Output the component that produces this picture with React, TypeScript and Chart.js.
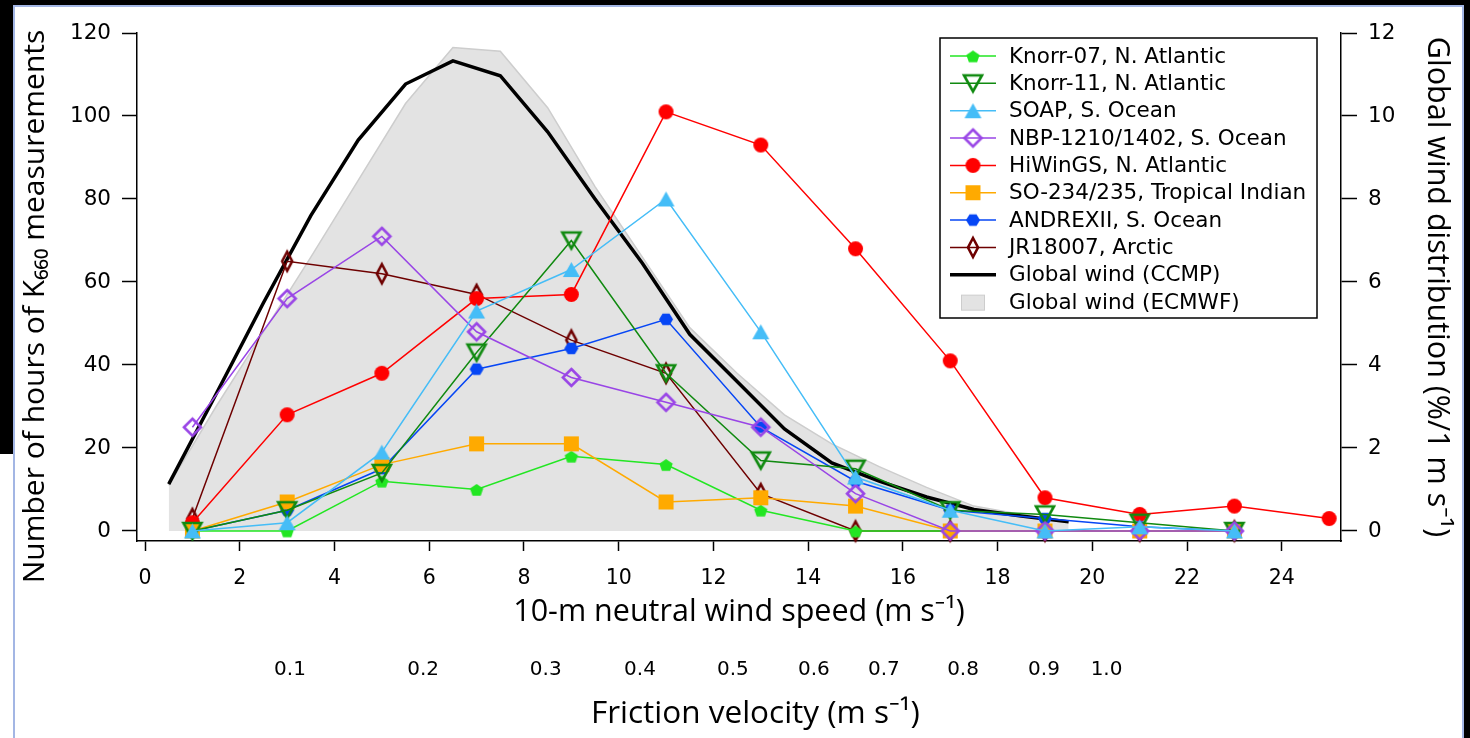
import React, { useEffect, useRef } from 'react';
import { Chart, registerables } from 'chart.js';

Chart.register(...registerables);

// ---- Data ----
const windBins = [1, 3, 5, 7, 9, 11, 13, 15, 17, 19, 21, 23, 25];
const knorr07 = [0, 0, 12, 10, 18, 16, 5, 0, 0, 0, 0, 0, null];
const knorr11 = [0, 5, 14, 43, 70, 38, 17, 15, 5, 4, 2, 0, null];
const soap = [0, 2, 19, 53, 63, 80, 48, 13, 5, 0, 1, 0, null];
const nbp = [25, 56, 71, 48, 37, 31, 25, 9, 0, 0, 0, 0, null];
const hiwings = [2, 28, 38, 56, 57, 101, 93, 68, 41, 8, 4, 6, 3];
const so234 = [0, 7, 16, 21, 21, 7, 8, 6, 0, 0, 0, 0, null];
const andrex = [0, 5, 15, 39, 44, 51, 25, 12, 5, 3, 1, 0, null];
const jr18007 = [3, 65, 62, 57, 46, 38, 9, 0, 0, 0, 0, 0, null];

const globalBins = [0.5, 1.5, 2.5, 3.5, 4.5, 5.5, 6.5, 7.5, 8.5, 9.5, 10.5, 11.5, 12.5, 13.5, 14.5, 15.5, 16.5, 17.5, 18.5, 19.5];
const ccmp = [1.13, 3.3, 5.5, 7.6, 9.42, 10.77, 11.33, 10.97, 9.62, 8.0, 6.45, 4.74, 3.6, 2.46, 1.64, 1.2, 0.82, 0.52, 0.36, 0.22];
const ecmwf = [1.1, 3.0, 4.8, 6.6, 8.45, 10.3, 11.65, 11.56, 10.2, 8.3, 6.6, 4.9, 3.8, 2.8, 2.1, 1.55, 1.05, 0.6, 0.4, 0.25];

const windTicks = [0, 2, 4, 6, 8, 10, 12, 14, 16, 18, 20, 22, 24];
const leftTicks = [0, 20, 40, 60, 80, 100, 120];
const rightTicks = [0, 2, 4, 6, 8, 10, 12];
const frictionAtWind = [3.06, 5.87, 8.46, 10.45, 12.41, 14.12, 15.6, 17.27, 18.98, 20.3];
const frictionLabels = ['0.1', '0.2', '0.3', '0.4', '0.5', '0.6', '0.7', '0.8', '0.9', '1.0'];

const TICK_FONT = '"DejaVu Sans", Verdana, sans-serif';
const TITLE_FONT = '"Open Sans", "Noto Sans", sans-serif';

type Shape = 'pentagon' | 'triDown' | 'triUp' | 'diamond' | 'circle' | 'square' | 'hexagon';

function makeMarker(shape: Shape, w: number, h: number, fill: string | null, stroke: string | null, lw: number) {
  const pad = Math.ceil(lw) + 1;
  const c = document.createElement('canvas');
  c.width = Math.ceil(w + pad * 2);
  c.height = Math.ceil(h + pad * 2);
  const ctx = c.getContext('2d')!;
  const cx = c.width / 2;
  const cy = c.height / 2;
  ctx.beginPath();
  if (shape === 'circle') {
    ctx.arc(cx, cy, w / 2, 0, Math.PI * 2);
  } else if (shape === 'square') {
    ctx.rect(cx - w / 2, cy - h / 2, w, h);
  } else if (shape === 'triUp') {
    ctx.moveTo(cx, cy - h / 2);
    ctx.lineTo(cx + w / 2, cy + h / 2);
    ctx.lineTo(cx - w / 2, cy + h / 2);
    ctx.closePath();
  } else if (shape === 'triDown') {
    ctx.moveTo(cx - w / 2, cy - h / 2);
    ctx.lineTo(cx + w / 2, cy - h / 2);
    ctx.lineTo(cx, cy + h / 2);
    ctx.closePath();
  } else if (shape === 'diamond') {
    ctx.moveTo(cx, cy - h / 2);
    ctx.lineTo(cx + w / 2, cy);
    ctx.lineTo(cx, cy + h / 2);
    ctx.lineTo(cx - w / 2, cy);
    ctx.closePath();
  } else if (shape === 'pentagon') {
    for (let i = 0; i < 5; i++) {
      const a = -Math.PI / 2 + (i * 2 * Math.PI) / 5;
      const px = cx + (w / 2) * Math.cos(a);
      const py = cy + 1 + (h / 2) * Math.sin(a);
      if (i === 0) ctx.moveTo(px, py); else ctx.lineTo(px, py);
    }
    ctx.closePath();
  } else if (shape === 'hexagon') {
    for (let i = 0; i < 6; i++) {
      const a = (i * Math.PI) / 3;
      const px = cx + (w / 2) * Math.cos(a);
      const py = cy + (h / 2) * Math.sin(a);
      if (i === 0) ctx.moveTo(px, py); else ctx.lineTo(px, py);
    }
    ctx.closePath();
  }
  if (fill) {
    ctx.fillStyle = fill;
    ctx.fill();
  }
  if (stroke) {
    ctx.strokeStyle = stroke;
    ctx.lineWidth = lw;
    ctx.lineJoin = 'miter';
    ctx.stroke();
  }
  return c;
}

export default function App() {
  const ref = useRef<HTMLCanvasElement>(null);

  useEffect(() => {
    const canvas = ref.current;
    if (!canvas) return;

    const series = [
      { label: 'Knorr-07, N. Atlantic', values: knorr07, color: '#22e622', marker: makeMarker('pentagon', 14, 13, '#22e622', null, 0), order: 16 },
      { label: 'Knorr-11, N. Atlantic', values: knorr11, color: '#108a10', marker: makeMarker('triDown', 18, 16, null, '#108a10', 2.6), order: 13 },
      { label: 'SOAP, S. Ocean', values: soap, color: '#45bdf7', marker: makeMarker('triUp', 17, 15, '#45bdf7', null, 0), order: 11 },
      { label: 'NBP-1210/1402, S. Ocean', values: nbp, color: '#9945e6', marker: makeMarker('diamond', 17, 17, null, '#9945e6', 2.6), order: 12 },
      { label: 'HiWinGS, N. Atlantic', values: hiwings, color: '#ff0000', marker: makeMarker('circle', 15, 15, '#ff0000', null, 0), order: 17 },
      { label: 'SO-234/235, Tropical Indian', values: so234, color: '#ffaa00', marker: makeMarker('square', 15, 15, '#ffaa00', null, 0), order: 14 },
      { label: 'ANDREXII, S. Ocean', values: andrex, color: '#0646f5', marker: makeMarker('hexagon', 14, 13, '#0646f5', null, 0), order: 15 },
      { label: 'JR18007, Arctic', values: jr18007, color: '#6e0000', marker: makeMarker('diamond', 10, 19, null, '#6e0000', 2.6), order: 18 },
    ];

    const datasets: any[] = series.map((s) => ({
      label: s.label,
      data: windBins
        .map((x, i) => ({ x, y: s.values[i] }))
        .filter((p) => p.y !== null),
      xAxisID: 'x',
      yAxisID: 'y',
      borderColor: s.color,
      backgroundColor: s.color,
      borderWidth: 1.5,
      pointStyle: s.marker,
      pointRadius: 8,
      pointHoverRadius: 8,
      fill: false,
      tension: 0,
      order: s.order,
      clip: false,
    }));

    datasets.push({
      label: 'Global wind (CCMP)',
      data: globalBins.map((x, i) => ({ x, y: ccmp[i] })),
      xAxisID: 'x',
      yAxisID: 'y2',
      borderColor: '#000000',
      borderWidth: 3.5,
      pointRadius: 0,
      fill: false,
      tension: 0,
      order: 20,
      clip: false,
    });
    datasets.push({
      label: 'Global wind (ECMWF)',
      data: globalBins.map((x, i) => ({ x, y: ecmwf[i] })),
      xAxisID: 'x',
      yAxisID: 'y2',
      borderColor: '#cdcdcd',
      backgroundColor: '#e3e3e3',
      borderWidth: 1.5,
      pointRadius: 0,
      fill: 'origin',
      tension: 0,
      order: 30,
      clip: false,
    });

    const legendEntries = [
      ...series.map((s) => ({ kind: 'series', label: s.label, color: s.color, marker: s.marker })),
      { kind: 'line', label: 'Global wind (CCMP)', color: '#000000', marker: null as any },
      { kind: 'area', label: 'Global wind (ECMWF)', color: '#e3e3e3', marker: null as any },
    ];

    const legendPlugin = {
      id: 'boxLegend',
      afterDraw(chart: any) {
        const ctx: CanvasRenderingContext2D = chart.ctx;
        const area = chart.chartArea;
        const x0 = area.left + 803;
        const y0 = area.top + 5;
        const w = 377;
        const h = 280;
        ctx.save();
        ctx.fillStyle = '#ffffff';
        ctx.fillRect(x0, y0, w, h);
        ctx.strokeStyle = '#000000';
        ctx.lineWidth = 1.5;
        ctx.strokeRect(x0, y0, w, h);
        ctx.font = '21.5px ' + TICK_FONT;
        ctx.textBaseline = 'middle';
        ctx.textAlign = 'left';
        legendEntries.forEach((e, i) => {
          const cy = y0 + 18 + i * 27.35;
          const lx0 = x0 + 10;
          const lx1 = x0 + 56;
          const mx = x0 + 33;
          if (e.kind === 'series') {
            ctx.strokeStyle = e.color;
            ctx.lineWidth = 1.5;
            ctx.beginPath();
            ctx.moveTo(lx0, cy);
            ctx.lineTo(lx1, cy);
            ctx.stroke();
            const m = e.marker as HTMLCanvasElement;
            ctx.drawImage(m, mx - m.width / 2, cy - m.height / 2);
          } else if (e.kind === 'line') {
            ctx.strokeStyle = e.color;
            ctx.lineWidth = 3.5;
            ctx.beginPath();
            ctx.moveTo(lx0, cy);
            ctx.lineTo(lx1, cy);
            ctx.stroke();
          } else {
            ctx.fillStyle = '#e3e3e3';
            ctx.fillRect(mx - 11.5, cy - 7, 23, 15);
            ctx.strokeStyle = '#cdcdcd';
            ctx.lineWidth = 1;
            ctx.strokeRect(mx - 11.5, cy - 7, 23, 15);
          }
          ctx.fillStyle = '#000000';
          ctx.fillText(e.label, x0 + 69, cy + 1);
        });
        ctx.restore();
      },
    };

    const xMin = -0.17;
    const xMax = 25.25;

    const chart = new Chart(canvas, {
      type: 'line',
      data: { datasets },
      plugins: [legendPlugin],
      options: {
        responsive: false,
        animation: false,
        events: [],
        layout: { padding: { left: 14, right: 7, top: 33, bottom: 0 } },
        plugins: {
          legend: { display: false },
          tooltip: { enabled: false },
          title: { display: false },
        },
        scales: {
          x: {
            type: 'linear',
            axis: 'x',
            position: 'bottom',
            weight: 0,
            min: xMin,
            max: xMax,
            afterBuildTicks: (s: any) => {
              s.ticks = windTicks.map((v) => ({ value: v }));
            },
            afterFit: (s: any) => {
              s.height = 90;
            },
            grid: { display: true, drawOnChartArea: false, drawTicks: true, tickLength: 10, tickWidth: 1.5, tickColor: '#000' },
            border: { display: true, color: '#000', width: 1.5 },
            ticks: { color: '#000', font: { family: TICK_FONT, size: 20.5 }, padding: 15, maxRotation: 0, autoSkip: false },
            title: {
              display: true,
              text: '10-m neutral wind speed (m s⁻¹)',
              color: '#000',
              font: { family: TITLE_FONT, size: 30.5 },
              padding: { top: 0, bottom: 0 },
            },
          },
          xf: {
            type: 'linear',
            axis: 'x',
            position: 'bottom',
            weight: 1,
            min: xMin,
            max: xMax,
            afterBuildTicks: (s: any) => {
              s.ticks = frictionAtWind.map((v) => ({ value: v }));
            },
            afterFit: (s: any) => {
              s.height = 107;
            },
            grid: { display: false, drawOnChartArea: false, drawTicks: false },
            border: { display: false },
            ticks: {
              color: '#000',
              font: { family: TICK_FONT, size: 20 },
              padding: 27,
              maxRotation: 0,
              autoSkip: false,
              callback: (_v: any, i: number) => frictionLabels[i],
            },
            title: {
              display: true,
              text: '    Friction velocity (m s⁻¹)',
              color: '#000',
              font: { family: TITLE_FONT, size: 31.5 },
              padding: { top: 0, bottom: 5 },
            },
          },
          y: {
            type: 'linear',
            axis: 'y',
            position: 'left',
            min: -2.41,
            max: 120,
            afterBuildTicks: (s: any) => {
              s.ticks = leftTicks.map((v) => ({ value: v }));
            },
            afterFit: (s: any) => {
              s.width = 123;
            },
            grid: { display: true, drawOnChartArea: false, drawTicks: true, tickLength: 15, tickWidth: 1.5, tickColor: '#000' },
            border: { display: true, color: '#000', width: 1.5 },
            ticks: { color: '#000', font: { family: TICK_FONT, size: 21.5 }, padding: 11 },
            title: {
              display: true,
              text: 'Number of hours of K₆₆₀ measurements     ',
              color: '#000',
              font: { family: TITLE_FONT, size: 30 },
              padding: { top: 3, bottom: 0 },
            },
          },
          y2: {
            type: 'linear',
            axis: 'y',
            position: 'right',
            min: -0.241,
            max: 12,
            afterBuildTicks: (s: any) => {
              s.ticks = rightTicks.map((v) => ({ value: v }));
            },
            afterFit: (s: any) => {
              s.width = 122;
            },
            grid: { display: true, drawOnChartArea: false, drawTicks: true, tickLength: 16, tickWidth: 1.5, tickColor: '#000' },
            border: { display: true, color: '#000', width: 1.5 },
            ticks: { color: '#000', font: { family: TICK_FONT, size: 21.5 }, padding: 11 },
            title: {
              display: true,
              text: 'Global wind distribution (%/1 m s⁻¹)',
              color: '#000',
              font: { family: TITLE_FONT, size: 30.5 },
              padding: { top: 8, bottom: 0 },
            },
          },
        },
      } as any,
    });

    return () => {
      chart.destroy();
    };
  }, []);

  return (
    <div style={{ position: 'fixed', left: 0, top: 0, width: 1470, height: 738, background: '#ffffff', overflow: 'hidden' }}>
      <div style={{ position: 'absolute', left: 0, top: 0, width: 1470, height: 5, background: '#000' }} />
      <div style={{ position: 'absolute', left: 0, top: 0, width: 13, height: 454, background: '#000' }} />
      <div style={{ position: 'absolute', left: 1464, top: 0, width: 6, height: 738, background: '#000' }} />
      <div style={{ position: 'absolute', left: 13, top: 5, width: 2, height: 733, background: '#a3b6e4' }} />
      <div style={{ position: 'absolute', left: 13, top: 5, width: 1451, height: 2, background: '#a3b6e4' }} />
      <div style={{ position: 'absolute', left: 1462, top: 5, width: 2, height: 733, background: '#a3b6e4' }} />
      <canvas
        ref={ref}
        width={1470}
        height={738}
        style={{ position: 'absolute', left: 0, top: 0, width: 1470, height: 738 }}
      />
    </div>
  );
}
